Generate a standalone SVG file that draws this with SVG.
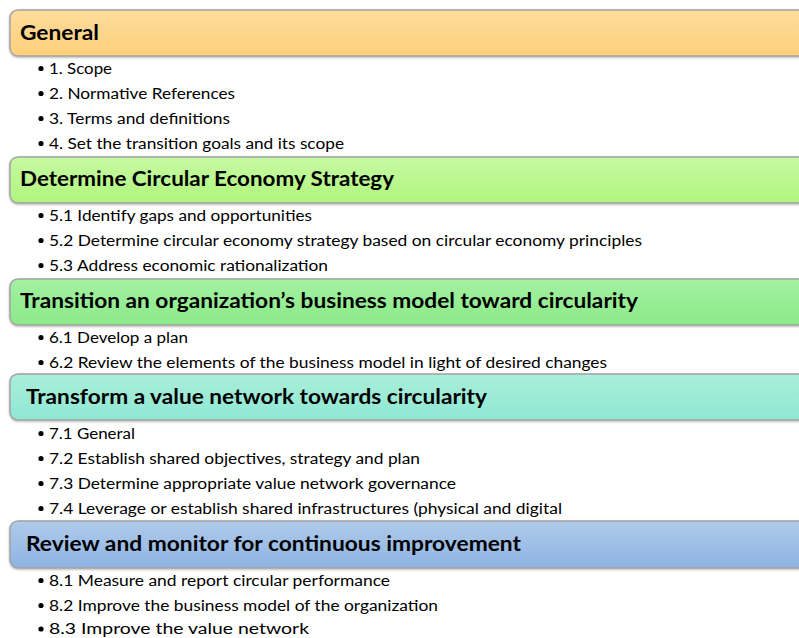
<svg xmlns="http://www.w3.org/2000/svg" width="799" height="638" viewBox="0 0 799 638">
<style>
.hdr{stroke:#a3a3a3;stroke-width:1.5}
.ht{font-family:Lato,"Open Sans","Liberation Sans",sans-serif;font-weight:bold;font-size:20px;fill:#000}
.bt{font-family:Lato,"Open Sans","Liberation Sans",sans-serif;font-size:15.5px;fill:#000}
.bl{fill:#000}
</style>
<defs>
<linearGradient id="g1" x1="0" y1="0" x2="0" y2="1"><stop offset="0" stop-color="#fedc9c"/><stop offset="1" stop-color="#fdd07a"/></linearGradient>
<linearGradient id="g2" x1="0" y1="0" x2="0" y2="1"><stop offset="0" stop-color="#c7f9a3"/><stop offset="1" stop-color="#aff67c"/></linearGradient>
<linearGradient id="g3" x1="0" y1="0" x2="0" y2="1"><stop offset="0" stop-color="#a3f1a2"/><stop offset="1" stop-color="#8ce988"/></linearGradient>
<linearGradient id="g4" x1="0" y1="0" x2="0" y2="1"><stop offset="0" stop-color="#aaeeda"/><stop offset="1" stop-color="#8ee8d3"/></linearGradient>
<linearGradient id="g5" x1="0" y1="0" x2="0" y2="1"><stop offset="0" stop-color="#b0cbea"/><stop offset="1" stop-color="#8db3e3"/></linearGradient>
<filter id="sh" x="-5%" y="-20%" width="110%" height="150%"><feGaussianBlur in="SourceAlpha" stdDeviation="1"/><feOffset dy="1"/><feComponentTransfer><feFuncA type="linear" slope="0.3"/></feComponentTransfer><feMerge><feMergeNode/><feMergeNode in="SourceGraphic"/></feMerge></filter>
</defs>
<rect width="799" height="638" fill="#fff"/>
<g id="general">
<rect class="hdr" x="10" y="10" width="800" height="46" rx="8" fill="url(#g1)" filter="url(#sh)"/>
<text class="ht" x="20" y="40" textLength="79" lengthAdjust="spacingAndGlyphs">General</text>
<circle class="bl" cx="41" cy="68.5" r="2.6"/><text class="bt" x="49" y="74" textLength="63" lengthAdjust="spacingAndGlyphs">1. Scope</text>
<circle class="bl" cx="41" cy="93.5" r="2.6"/><text class="bt" x="49" y="99" textLength="186" lengthAdjust="spacingAndGlyphs">2. Normative References</text>
<circle class="bl" cx="41" cy="118.5" r="2.6"/><text class="bt" x="49" y="124" textLength="181" lengthAdjust="spacingAndGlyphs">3. Terms and definitions</text>
<circle class="bl" cx="41" cy="143.5" r="2.6"/><text class="bt" x="49" y="149" textLength="295" lengthAdjust="spacingAndGlyphs">4. Set the transition goals and its scope</text>
</g>
<g id="strategy">
<rect class="hdr" x="10" y="157" width="800" height="46" rx="8" fill="url(#g2)" filter="url(#sh)"/>
<text class="ht" x="20" y="186" textLength="374" lengthAdjust="spacingAndGlyphs">Determine Circular Economy Strategy</text>
<circle class="bl" cx="41" cy="215.5" r="2.6"/><text class="bt" x="49" y="221" textLength="263" lengthAdjust="spacingAndGlyphs">5.1 Identify gaps and opportunities</text>
<circle class="bl" cx="41" cy="240.5" r="2.6"/><text class="bt" x="49" y="246" textLength="593" lengthAdjust="spacingAndGlyphs">5.2 Determine circular economy strategy based on circular economy principles</text>
<circle class="bl" cx="41" cy="265.5" r="2.6"/><text class="bt" x="49" y="271" textLength="279" lengthAdjust="spacingAndGlyphs">5.3 Address economic rationalization</text>
</g>
<g id="business-model">
<rect class="hdr" x="10" y="279" width="800" height="46" rx="8" fill="url(#g3)" filter="url(#sh)"/>
<text class="ht" x="20" y="308" textLength="618" lengthAdjust="spacingAndGlyphs">Transition an organization’s business model toward circularity</text>
<circle class="bl" cx="41" cy="337.5" r="2.6"/><text class="bt" x="49" y="343" textLength="139" lengthAdjust="spacingAndGlyphs">6.1 Develop a plan</text>
<circle class="bl" cx="41" cy="362.5" r="2.6"/><text class="bt" x="49" y="368" textLength="558" lengthAdjust="spacingAndGlyphs">6.2 Review the elements of the business model in light of desired changes</text>
</g>
<g id="value-network">
<rect class="hdr" x="10" y="374" width="800" height="46" rx="8" fill="url(#g4)" filter="url(#sh)"/>
<text class="ht" x="26" y="404" textLength="461" lengthAdjust="spacingAndGlyphs">Transform a value network towards circularity</text>
<circle class="bl" cx="41" cy="433.5" r="2.6"/><text class="bt" x="49" y="439" textLength="86" lengthAdjust="spacingAndGlyphs">7.1 General</text>
<circle class="bl" cx="41" cy="458.5" r="2.6"/><text class="bt" x="49" y="464" textLength="371" lengthAdjust="spacingAndGlyphs">7.2 Establish shared objectives, strategy and plan</text>
<circle class="bl" cx="41" cy="483.5" r="2.6"/><text class="bt" x="49" y="489" textLength="407" lengthAdjust="spacingAndGlyphs">7.3 Determine appropriate value network governance</text>
<circle class="bl" cx="41" cy="508.5" r="2.6"/><text class="bt" x="49" y="514" textLength="513" lengthAdjust="spacingAndGlyphs">7.4 Leverage or establish shared infrastructures (physical and digital</text>
</g>
<g id="review">
<rect class="hdr" x="10" y="521" width="800" height="47" rx="8" fill="url(#g5)" filter="url(#sh)"/>
<text class="ht" x="26" y="551" textLength="495" lengthAdjust="spacingAndGlyphs">Review and monitor for continuous improvement</text>
<circle class="bl" cx="41" cy="580.5" r="2.6"/><text class="bt" x="49" y="586" textLength="341" lengthAdjust="spacingAndGlyphs">8.1 Measure and report circular performance</text>
<circle class="bl" cx="41" cy="605.5" r="2.6"/><text class="bt" x="49" y="611" textLength="389" lengthAdjust="spacingAndGlyphs">8.2 Improve the business model of the organization</text>
<circle class="bl" cx="41" cy="629" r="2.6"/><text class="bt" x="49" y="634" textLength="260" lengthAdjust="spacingAndGlyphs">8.3 Improve the value network</text>
</g>
</svg>
